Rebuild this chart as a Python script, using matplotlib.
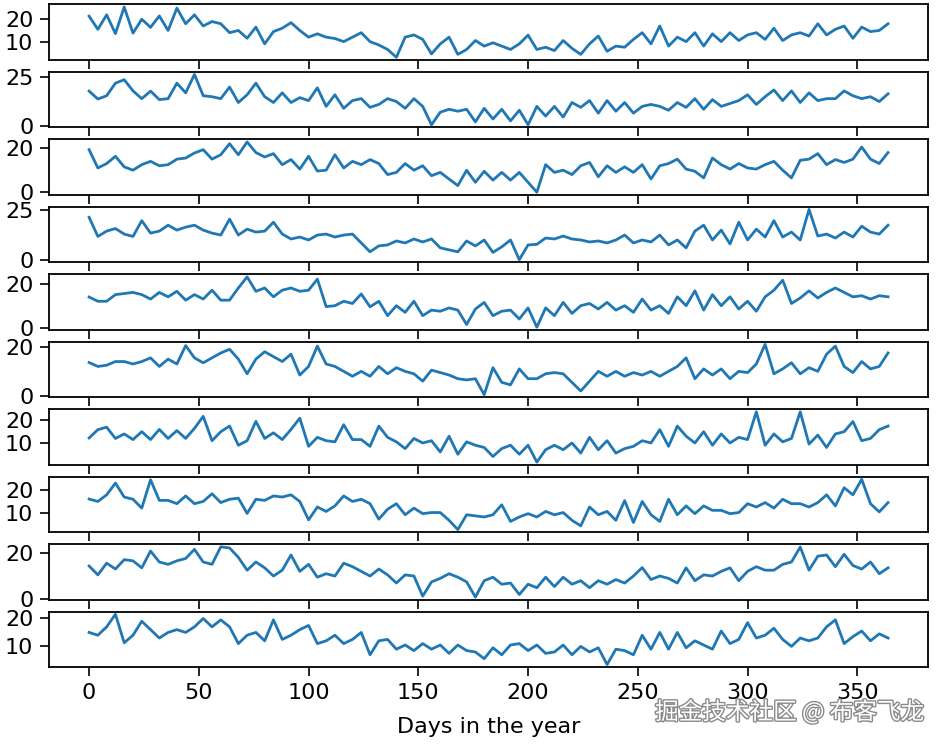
import numpy as np
import matplotlib.pyplot as plt
import matplotlib.patheffects as pe

# daily minimum temperature, one value every 4 days
year_1981 = [21.4, 15.5, 22, 13.6, 25.5, 13.8, 20, 16.4, 21.5, 15,
             25, 18, 22, 17, 19, 18, 14, 15, 11.5, 16.5,
             9, 14.5, 16, 18.5, 15, 12, 13.5, 12, 11.4, 10,
             12, 14, 10, 8.5, 6.5, 3, 12, 13, 11, 4.5,
             9, 12, 4.3, 6.5, 10.5, 8, 9.5, 8, 6.5, 9,
             12.9, 6.5, 7.5, 6, 10.5, 7, 4.3, 9, 12.5, 5.7,
             8, 7.5, 11, 14, 9, 17, 8, 12, 10, 14,
             8, 13.5, 10, 14, 10.5, 13, 14, 11, 16, 10.5,
             13, 14, 12.5, 18, 13, 15.5, 17, 11.5, 16.5, 14.5,
             15, 18]
year_1982 = [17.9, 13.8, 15.5, 22, 23.8, 18, 14, 17.9, 13.5, 14,
             22, 17, 26.5, 15.5, 15, 14, 20, 12, 16, 22,
             15, 12, 17, 12, 14.5, 13, 19.6, 10, 16, 9,
             13, 14, 9.5, 11, 14, 12.5, 9, 14, 10, 0.5,
             7, 8.5, 7.5, 8.5, 2, 9, 3.5, 8.5, 2.5, 8,
             0.5, 10, 5, 10, 4.5, 12, 9.5, 13, 6.5, 13,
             7.5, 12, 6.5, 10, 11, 10, 8, 12, 9.5, 14,
             8.5, 13.5, 10, 11.5, 13, 16, 11, 15, 18.5, 13,
             18, 12, 17, 13, 14, 14, 18, 15.5, 14, 15,
             12.5, 16.5]
year_1983 = [19.3, 11, 13, 16.3, 11.5, 10, 12.5, 14, 12, 12.5,
             15, 15.5, 17.8, 19.3, 15, 17, 22, 17, 22.8, 18,
             16, 17.5, 12.5, 14.8, 10.5, 16.3, 9.6, 10, 17, 11,
             14, 12.5, 14.8, 13, 8, 9, 13, 10, 12, 7.5,
             9, 6, 3, 10, 4.5, 9.5, 5.5, 9, 5.5, 9,
             4.5, 0, 12.5, 9, 10, 8, 12, 13.5, 7, 12,
             9, 11.5, 9, 12.5, 6, 12, 13, 15, 10.5, 9.5,
             6.5, 15.5, 12.5, 10.5, 13, 11, 10.5, 12.5, 14, 10,
             6.5, 14.5, 15, 17.5, 12.5, 14.8, 13.5, 15, 20.5, 15,
             13, 18]
year_1984 = [21.5, 11.8, 14.5, 15.8, 13, 11.8, 19.8, 13.5, 14.5, 17.5,
             15, 16.5, 17.5, 15, 13.5, 12.5, 20.6, 12.5, 15.5, 14,
             14.5, 19, 13, 10.5, 11.5, 10, 12.5, 13, 11.5, 12.5,
             13, 8.5, 4, 7, 7.5, 9.5, 8.5, 10.5, 9, 10.5,
             6, 5, 4, 9.5, 7, 10, 3.7, 6.5, 10, 0,
             7.5, 7.8, 11, 10.5, 12, 10.5, 10, 9, 9.5, 8.5,
             10, 12.5, 8.5, 10, 9, 12.5, 7.5, 10, 6, 14.5,
             17.5, 10, 15, 8, 19, 10, 15.5, 11.5, 19.8, 11.5,
             14, 10, 25.5, 12, 13, 11, 14, 11.5, 17, 14,
             13, 17.5]
year_1985 = [13.9, 12, 12, 15, 15.5, 16, 15, 13, 16, 14,
             16.5, 12.5, 15, 13, 17, 12.5, 12.5, 18, 23, 16.5,
             18, 14, 17, 18, 16.5, 17, 22, 9.6, 10, 12,
             11, 15.3, 9.5, 12, 5.5, 10, 7, 12, 5.5, 8,
             7.5, 9, 8, 1.5, 8.5, 11.5, 5.5, 7.5, 8, 4,
             9, 0.3, 9, 5.5, 11.5, 6.5, 10, 11, 8.5, 11.5,
             8, 10, 7, 13, 8, 10, 6.5, 14, 10, 16.7,
             8, 15, 10, 14, 8.5, 12, 7.5, 14, 17, 21.5,
             11, 13.5, 16.7, 13.5, 16, 18, 16, 14, 14.5, 13,
             14.5, 14]
year_1986 = [13.6, 12, 12.5, 14, 14, 13, 14, 15.5, 12, 15,
             13, 20.5, 15.5, 13.5, 15.5, 17.5, 19, 15, 9, 15,
             18, 16, 14, 17, 8.5, 12, 20.3, 13, 12, 10,
             8, 10, 8, 12, 9, 11.5, 10, 9, 6, 10.5,
             9.5, 8.5, 7, 6.5, 7, 0.5, 11.5, 5.5, 4.5, 11,
             7, 7, 9, 9.5, 9, 5.5, 2, 6, 10, 8,
             10, 8, 9.5, 8.5, 10, 8, 10, 12, 15.5, 7,
             11, 8.5, 11, 7, 10, 9.5, 13, 21, 9, 11,
             13.5, 9, 11.5, 10, 17, 20.3, 12, 9.5, 14, 11,
             12, 17.5]
year_1987 = [12.2, 15.9, 17, 12, 14, 11.5, 15, 11.5, 16, 12,
             15.5, 12, 16.5, 21.8, 11, 15, 17.5, 9, 11, 19.6,
             12, 14.5, 11.5, 16, 21, 8.5, 12.5, 11, 10.5, 18.1,
             11.5, 11.5, 8.5, 17.5, 12.5, 10.5, 7.5, 12, 10, 11,
             6, 13, 5, 10.5, 9, 8, 4, 7.5, 9, 5,
             9, 1.5, 7, 9, 7, 10, 5.5, 12.5, 7, 11,
             5.5, 7.5, 8.5, 11, 10, 15.9, 8.5, 17.5, 13, 10,
             15, 9, 14, 10, 12.5, 11.5, 23.8, 9, 14, 10.5,
             12, 23.8, 9.5, 13.5, 8, 14, 15, 19.5, 11, 12,
             15.9, 17.5]
year_1988 = [16.1, 15, 18, 23.3, 17, 16, 12, 24.8, 15.5, 15.5,
             14, 17.5, 14, 15, 18.5, 14.5, 16, 16.5, 9.6, 16,
             15.5, 17.5, 17, 18, 15, 6.7, 12.5, 10.5, 13, 17.5,
             15, 16, 14, 7, 11.5, 14, 9, 12, 9.5, 10,
             10, 6.5, 2.3, 9, 8.5, 8, 9, 13.5, 6, 8,
             9.5, 8, 10.5, 9, 10, 6.5, 4, 12.5, 9, 10.5,
             6.5, 15.4, 5.5, 15, 9, 6, 16, 9, 13, 9.5,
             13, 11, 11, 9.5, 10, 14, 12.5, 14.5, 12, 16,
             14, 14, 12.5, 14.5, 18, 13, 21.2, 18, 25, 14,
             10.3, 14.5]
year_1989 = [14.3, 10.5, 15.5, 13, 17, 16.5, 13.5, 20.7, 16, 15,
             16.5, 17.5, 21.4, 16, 15, 22.5, 22, 18, 12.5, 16,
             13.5, 10, 12.5, 19, 12, 15, 9.5, 11, 10, 15.5,
             14, 12, 10, 13, 10.5, 7, 10.5, 10, 1.4, 7.5,
             9, 11, 9.5, 7.5, 1, 8, 9.5, 6.5, 7, 2.1,
             6.5, 5, 9.5, 5.5, 9.5, 6.5, 8, 5, 8, 6.5,
             8.5, 7, 10, 13.6, 8.5, 10, 9, 7, 13.5, 8,
             10.5, 10, 12, 13.5, 8, 12, 14, 12.5, 12.5, 15,
             16, 22.4, 12.5, 18.5, 19, 14, 19.3, 14.5, 13, 16,
             11, 13.5]
year_1990 = [15, 14, 17, 21.5, 11.3, 14, 19, 16, 13, 15,
             16, 15, 17, 20, 17, 19.5, 17, 11, 14, 15,
             12, 19.5, 12.5, 14, 16, 17.5, 11, 12, 14, 11,
             12.5, 15, 7, 12, 12.5, 9, 10.5, 8.5, 11, 9,
             10.5, 7.5, 10.5, 8.5, 8, 5.6, 9.5, 7, 10.5, 11,
             8.5, 10.5, 7.5, 8, 10.5, 7, 10, 8, 9.5, 3.5,
             9, 8.5, 7, 14, 9, 15, 9, 15, 9.5, 12,
             10.5, 9, 15.5, 11, 12.5, 18.5, 13, 14, 16.5, 12.5,
             10, 13, 12, 13, 17, 19.5, 11, 13.5, 15.5, 12,
             14.5, 13]

years = [year_1981, year_1982, year_1983, year_1984, year_1985,
         year_1986, year_1987, year_1988, year_1989, year_1990]
ytick_sets = [[10, 20], [0, 25], [0, 20], [0, 25], [0, 20],
              [0, 20], [10, 20], [10, 20], [0, 20], [10, 20]]

plt.rcParams['font.size'] = 16

fig, axes = plt.subplots(10, 1, sharex=True, figsize=(9.45, 7.47), dpi=100)
fig.subplots_adjust(left=0.052, right=0.982, top=0.994, bottom=0.107, hspace=0.22)

for ax, temps, ticks in zip(axes, years, ytick_sets):
    days = np.arange(0, 4 * len(temps), 4)
    ax.plot(days, temps, color='#1f77b4', linewidth=2.0)
    ax.set_yticks(ticks)
    ax.tick_params(length=6.7, width=1.2, pad=4.7)
    for s in ax.spines.values():
        s.set_linewidth(1.3)

axes[-1].set_xlabel('Days in the year', labelpad=10)

# watermark in the lower right corner
fig.text(0.978, 0.047, '掘金技术社区 @ 布客飞龙', ha='right', va='center',
         fontsize=17, color='white', family=['Noto Sans CJK SC', 'DejaVu Sans'],
         path_effects=[pe.withStroke(linewidth=2, foreground='#8a8a8a')])

fig.savefig('out.png', dpi=100)
